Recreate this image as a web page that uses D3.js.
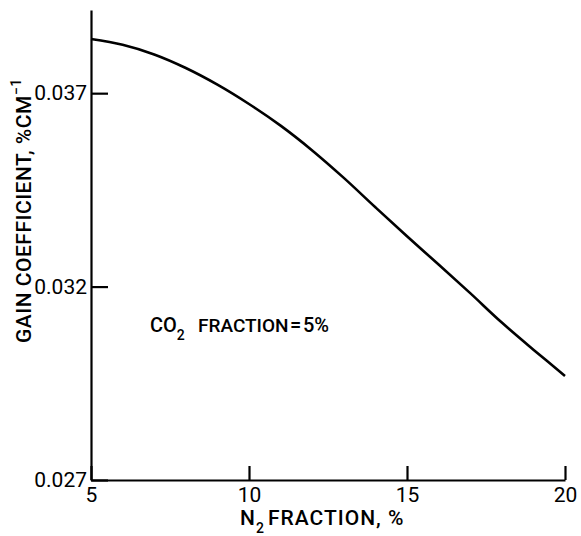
<!DOCTYPE html>
<html>
<head>
<meta charset="utf-8">
<script src="https://cdn.jsdelivr.net/npm/d3@7"></script>
<style>
  html, body { margin: 0; padding: 0; background: #fff; }
  svg { display: block; }
  text { font-family: Roboto, "Liberation Sans", Arial, sans-serif; fill: #000; }
</style>
</head>
<body>
<svg id="chart" width="581" height="536"></svg>
<script>
// ---- data ----
const n2Fraction = [5, 6, 7, 8, 9, 10, 11, 12, 13, 14, 15, 16, 17, 18, 19, 20];
const gainCoefficient = [0.03840, 0.03825, 0.03800, 0.03765, 0.03722, 0.03672, 0.03616, 0.03552,
                         0.03481, 0.03405, 0.03330, 0.03257, 0.03183, 0.03107, 0.03037, 0.02969];
const xTicks = [5, 10, 15, 20];
const yTicks = [0.027, 0.032, 0.037];
const yTickLabels = ["0.027", "0.032", "0.037"];

const points = n2Fraction.map((x, i) => ({ x, y: gainCoefficient[i] }));

const svg = d3.select("#chart");
const x = d3.scaleLinear().domain([5, 20]).range([91, 565]);
const y = d3.scaleLinear().domain([0.027, 0.03915]).range([480, 10]);

// y axis
const yAxis = svg.append("g")
  .attr("transform", "translate(91,0)")
  .call(d3.axisLeft(y).tickValues(yTicks).tickFormat((d, i) => yTickLabels[i])
    .tickSizeInner(-17).tickSizeOuter(0).tickPadding(4));
yAxis.select(".domain").attr("stroke", "#000").attr("stroke-width", 2.2);
yAxis.selectAll(".tick line").attr("stroke", "#000").attr("stroke-width", 2.2);
yAxis.selectAll(".tick text").attr("font-size", 21).attr("font-family", "Roboto, sans-serif").attr("fill", "#000");

// x axis
const xAxis = svg.append("g")
  .attr("transform", "translate(0,480)")
  .call(d3.axisBottom(x).tickValues(xTicks).tickFormat(d3.format("d"))
    .tickSizeInner(-14).tickSizeOuter(0).tickPadding(7));
xAxis.select(".domain").attr("stroke", "#000").attr("stroke-width", 2.2);
xAxis.selectAll(".tick line").attr("stroke", "#000").attr("stroke-width", 2.2);
xAxis.selectAll(".tick text").attr("font-size", 21).attr("font-family", "Roboto, sans-serif").attr("fill", "#000");

// curve
const line = d3.line().x(d => x(d.x)).y(d => y(d.y)).curve(d3.curveCatmullRom.alpha(0.5));
svg.append("path")
  .datum(points)
  .attr("d", line)
  .attr("fill", "none")
  .attr("stroke", "#000")
  .attr("stroke-width", 2.6);

// x axis title
const xt = svg.append("text").attr("y", 525).attr("font-size", 21)
  .attr("font-weight", 500).attr("letter-spacing", 1);
xt.append("tspan").attr("x", 240).text("N");
xt.append("tspan").attr("font-size", 14).attr("dy", 8).text("2");
xt.append("tspan").attr("x", 268).attr("dy", -8).text("FRACTION, %");

// y axis title
const yt = svg.append("text")
  .attr("transform", "translate(31,343) rotate(-90)")
  .attr("font-size", 21).attr("font-weight", 500).attr("letter-spacing", 0.5);
yt.append("tspan").attr("x", 0).text("GAIN COEFFICIENT, %CM");
yt.append("tspan").attr("font-size", 14).attr("dy", -10).text("−1");

// annotation
const ann = svg.append("text").attr("y", 332).attr("font-size", 20).attr("font-weight", 500);
ann.append("tspan").attr("x", 150).text("CO");
ann.append("tspan").attr("font-size", 14).attr("dy", 8).text("2");
svg.append("text").attr("x", 198).attr("y", 332).attr("font-size", 19)
  .attr("font-weight", 500).text("FRACTION");
svg.append("text").attr("x", 290).attr("y", 332).attr("font-size", 20)
  .attr("font-weight", 500).text("=");
svg.append("text").attr("x", 303).attr("y", 332).attr("font-size", 20)
  .attr("font-weight", 500).text("5%");
</script>
</body>
</html>
